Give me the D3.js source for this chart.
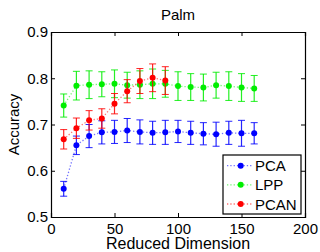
<!DOCTYPE html>
<html>
<head>
<meta charset="utf-8">
<script src="https://cdn.jsdelivr.net/npm/d3@7"></script>
<style>
  body { margin: 0; background: #fff; }
  text { font-family: "Liberation Sans", Arial, sans-serif; }
</style>
</head>
<body>
<div id="chart"></div>
<script>
// values
const dims = [10, 20, 30, 40, 50, 60, 70, 80, 90, 100, 110, 120, 130, 140, 150, 160]
const pcaAcc = [0.561, 0.655, 0.675, 0.683, 0.684, 0.687, 0.684, 0.682, 0.683, 0.685, 0.682, 0.680, 0.679, 0.682, 0.681, 0.681]
const pcaErr = [0.016, 0.020, 0.025, 0.025, 0.025, 0.026, 0.026, 0.025, 0.026, 0.024, 0.025, 0.024, 0.026, 0.025, 0.028, 0.023]
const lppAcc = [0.741, 0.784, 0.786, 0.787, 0.788, 0.785, 0.786, 0.788, 0.788, 0.783, 0.781, 0.780, 0.785, 0.783, 0.780, 0.778]
const lppErr = [0.025, 0.031, 0.030, 0.027, 0.030, 0.028, 0.030, 0.032, 0.029, 0.031, 0.029, 0.029, 0.028, 0.031, 0.030, 0.028]
const pcanDims = [10, 20, 30, 40, 50, 60, 70, 80, 90]
const pcanAcc = [0.668, 0.692, 0.709, 0.713, 0.745, 0.772, 0.794, 0.801, 0.795]
const pcanErr = [0.021, 0.022, 0.021, 0.021, 0.022, 0.025, 0.027, 0.030, 0.030]

const xTicks = [0, 50, 100, 150, 200]
const yTicks = [0.5, 0.6, 0.7, 0.8, 0.9]

const series = [
    {name: "PCA", color: "#0000ff", x: dims, y: pcaAcc, e: pcaErr},
    {name: "LPP", color: "#00ee00", x: dims, y: lppAcc, e: lppErr},
    {name: "PCAN", color: "#ff0000", x: pcanDims, y: pcanAcc, e: pcanErr}
]

const width = 320
const height = 252
const margin = {left: 51, right: 15, top: 32, bottom: 35}

const svg = d3.select("#chart")
    .append("svg")
    .attr("width", width)
    .attr("height", height)

const x = d3.scaleLinear().domain([0, 200]).range([margin.left, width - margin.right])
const y = d3.scaleLinear().domain([0.5, 0.9]).range([height - margin.bottom, margin.top])

// series: dotted lines, error bars, markers
series.forEach(function(s) {
    const pts = s.x.map((d, i) => ({x: d, y: s.y[i], e: s.e[i]}))
    const g = svg.append("g")

    g.append("path")
        .datum(pts)
        .attr("d", d3.line().x(d => x(d.x)).y(d => y(d.y)))
        .attr("fill", "none")
        .attr("stroke", s.color)
        .attr("stroke-width", 1.3)
        .attr("stroke-dasharray", "1.3,2")
        .attr("opacity", 0.55)

    const eb = g.selectAll(".eb").data(pts).join("g")
    eb.append("line")
        .attr("x1", d => x(d.x)).attr("x2", d => x(d.x))
        .attr("y1", d => y(d.y - d.e)).attr("y2", d => y(d.y + d.e))
        .attr("stroke", s.color).attr("stroke-width", 1.2).attr("opacity", 0.85)
    eb.append("line")
        .attr("x1", d => x(d.x) - 3.5).attr("x2", d => x(d.x) + 3.5)
        .attr("y1", d => y(d.y - d.e)).attr("y2", d => y(d.y - d.e))
        .attr("stroke", s.color).attr("stroke-width", 1).attr("opacity", 0.85)
    eb.append("line")
        .attr("x1", d => x(d.x) - 3.5).attr("x2", d => x(d.x) + 3.5)
        .attr("y1", d => y(d.y + d.e)).attr("y2", d => y(d.y + d.e))
        .attr("stroke", s.color).attr("stroke-width", 1).attr("opacity", 0.85)

    g.selectAll("circle").data(pts).join("circle")
        .attr("cx", d => x(d.x))
        .attr("cy", d => y(d.y))
        .attr("r", 3)
        .attr("fill", s.color)
})

// axes with inward ticks on all four sides
const tickLen = 4
svg.append("g")
    .attr("transform", `translate(0,${y(0.5)})`)
    .call(d3.axisBottom(x).tickValues(xTicks).tickSize(-tickLen).tickPadding(6).tickFormat(d3.format("d")))
svg.append("g")
    .attr("transform", `translate(0,${y(0.9)})`)
    .call(d3.axisTop(x).tickValues(xTicks).tickSize(-tickLen).tickFormat(""))
svg.append("g")
    .attr("transform", `translate(${x(0)},0)`)
    .call(d3.axisLeft(y).tickValues(yTicks).tickSize(-tickLen).tickPadding(3).tickFormat(d3.format(".1f")))
svg.append("g")
    .attr("transform", `translate(${x(200)},0)`)
    .call(d3.axisRight(y).tickValues(yTicks).tickSize(-tickLen).tickFormat(""))

svg.selectAll(".domain").attr("stroke", "#000").attr("stroke-width", 1.2)
svg.selectAll(".tick line").attr("stroke", "#000")
svg.selectAll(".tick text")
    .attr("font-size", 15)
    .attr("fill", "#000")
    .style("font-family", "'Liberation Sans', Arial, sans-serif")

// titles
svg.append("text")
    .attr("x", (x(0) + x(200)) / 2)
    .attr("y", 20)
    .attr("text-anchor", "middle")
    .attr("font-size", 15)
    .text("Palm")

svg.append("text")
    .attr("x", (x(0) + x(200)) / 2)
    .attr("y", 249)
    .attr("text-anchor", "middle")
    .attr("font-size", 16)
    .text("Reduced Dimension")

svg.append("text")
    .attr("transform", `translate(19,${(y(0.5) + y(0.9)) / 2}) rotate(-90)`)
    .attr("text-anchor", "middle")
    .attr("font-size", 15)
    .text("Accuracy")

// legend
const legend = svg.append("g").attr("transform", "translate(223,155)")
legend.append("rect")
    .attr("width", 78).attr("height", 59)
    .attr("fill", "#fff").attr("stroke", "#000").attr("stroke-width", 1.2)

const rowY = d3.scalePoint().domain(series.map(s => s.name)).range([10.7, 49])
series.forEach(function(s) {
    const row = legend.append("g").attr("transform", `translate(0,${rowY(s.name)})`)
    row.append("line")
        .attr("x1", 4).attr("x2", 29)
        .attr("stroke", s.color).attr("stroke-width", 1.3)
        .attr("stroke-dasharray", "1.3,2").attr("opacity", 0.55)
    row.append("circle").attr("cx", 17.7).attr("r", 3).attr("fill", s.color)
    row.append("text")
        .attr("x", 32).attr("y", 5.5)
        .attr("font-size", 15)
        .text(s.name)
})
</script>
</body>
</html>
